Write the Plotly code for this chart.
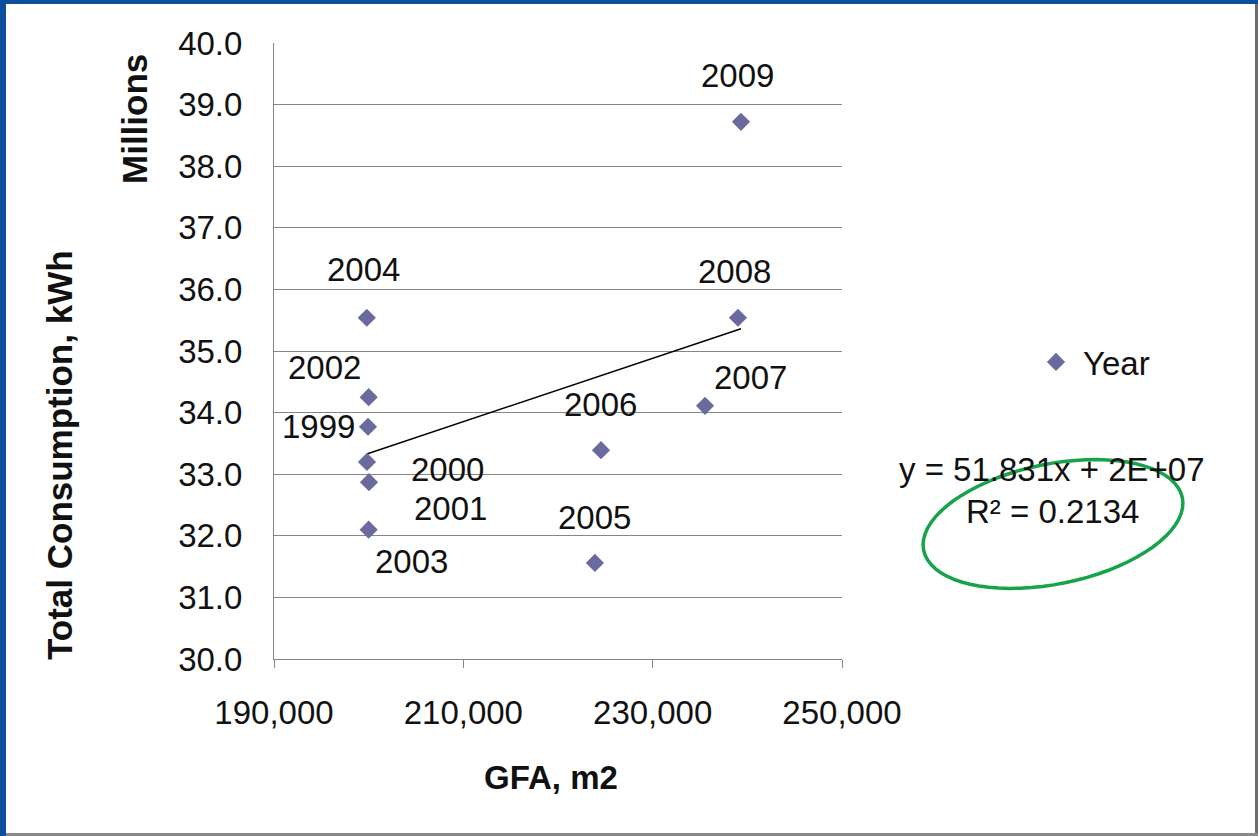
import numpy as np
import plotly.graph_objects as go

# ---- data ----
years = ["1999", "2000", "2001", "2002", "2003", "2004", "2005", "2006", "2007", "2008", "2009"]
gfa_m2 = [199930, 199820, 200035, 200000, 200000, 199800, 223900, 224540, 235530, 239010, 239330]
consumption_mkwh = [33.77, 33.20, 32.87, 34.25, 32.10, 35.54, 31.56, 33.39, 34.11, 35.54, 38.72]
x_ticks = [190000, 210000, 230000, 250000]
equation_text = "y = 51.831x + 2E+07"
r2_text = "R² = 0.2134"

# ---- layout geometry (pixels) ----
W, H = 1258, 836
PL, PR, PT, PB = 274, 842, 43, 659  # plot area edges


def px(x):
    return (x - PL) / (PR - PL)


def py(y):
    return (PB - y) / (PB - PT)


FONT = "Arial, Liberation Sans, sans-serif"
TXT = "#111111"

# label offsets relative to each point (pixels, y up)
label_offsets = {
    "1999": (-50, 0), "2000": (81, -8), "2001": (81, -26), "2002": (-44, 30),
    "2003": (43, -32), "2004": (-3, 48), "2005": (0, 45), "2006": (0, 46),
    "2007": (45, 28), "2008": (-3, 46), "2009": (-3, 46),
}

fig = go.Figure()

# trendline (linear fit) from min x to max x
coef = np.polyfit(np.array(gfa_m2, float), np.array(consumption_mkwh, float), 1)
tx = np.array([min(gfa_m2), max(gfa_m2)], float)
fig.add_trace(go.Scatter(x=tx, y=np.polyval(coef, tx), mode="lines",
                         line=dict(color="#000000", width=1.5), showlegend=False,
                         hoverinfo="skip"))

fig.add_trace(go.Scatter(x=gfa_m2, y=consumption_mkwh, mode="markers", name="Year",
                         marker=dict(symbol="diamond", size=14, color="#6a6a9e",
                                     line=dict(width=0))))

annotations = []
for yr, xv, yv in zip(years, gfa_m2, consumption_mkwh):
    dx, dy = label_offsets[yr]
    annotations.append(dict(x=xv, y=yv, xref="x", yref="y", text=yr, showarrow=False,
                            xanchor="center", yanchor="middle",
                            xshift=dx, yshift=dy, font=dict(family=FONT, size=33, color=TXT)))


def ann(xp, yp, text, angle=0, size=33):
    return dict(x=px(xp), y=py(yp), xref="paper", yref="paper", text=text, textangle=angle,
                showarrow=False, xanchor="center", yanchor="middle",
                font=dict(family=FONT, size=size, color=TXT))


annotations += [
    ann(60, 455, "<b>Total Consumption, kWh</b>", -90, 35),
    ann(135, 119, "<b>Millions</b>", -90, 35),
    ann(551, 777, "<b>GFA, m2</b>"),
    ann(1052, 470, equation_text),
    ann(1052, 511, r2_text),
]

# green ellipse
cx, cy, a, b, th = 1053, 524, 132, 60, np.deg2rad(11.5)
t = np.linspace(0, 2 * np.pi, 73)
ex = cx + a * np.cos(t) * np.cos(th) - b * np.sin(t) * np.sin(th)
ey = cy - (a * np.cos(t) * np.sin(th) + b * np.sin(t) * np.cos(th))
path = "M " + " L ".join(f"{px(u):.5f},{py(v):.5f}" for u, v in zip(ex, ey)) + " Z"

shapes = [
    dict(type="path", path=path, xref="paper", yref="paper",
         line=dict(color="#17a34a", width=3.5)),
    # frame
    dict(type="rect", xref="paper", yref="paper", x0=px(0), x1=px(W), y0=py(4), y1=py(0),
         fillcolor="#0d4f9a", line=dict(width=0)),
    dict(type="rect", xref="paper", yref="paper", x0=px(0), x1=px(6), y0=py(H), y1=py(0),
         fillcolor="#0d4f9a", line=dict(width=0)),
    dict(type="rect", xref="paper", yref="paper", x0=px(W - 3), x1=px(W), y0=py(H), y1=py(4),
         fillcolor="#6e6e6e", line=dict(width=0)),
    dict(type="rect", xref="paper", yref="paper", x0=px(6), x1=px(W), y0=py(H), y1=py(H - 3),
         fillcolor="#8a8a8a", line=dict(width=0)),
]

fig.update_layout(
    width=W, height=H,
    margin=dict(l=PL, r=W - PR, t=PT, b=H - PB, pad=0),
    paper_bgcolor="white", plot_bgcolor="white",
    font=dict(family=FONT, size=33, color=TXT),
    annotations=annotations, shapes=shapes,
    legend=dict(x=px(1029), y=py(362), xanchor="left", yanchor="middle",
                font=dict(family=FONT, size=33, color=TXT), bgcolor="rgba(0,0,0,0)",
                itemwidth=44),
    xaxis=dict(range=[190000, 250000], tickvals=x_ticks, tickformat=",", showgrid=False,
               zeroline=False, showline=True, linecolor="#868686", linewidth=1,
               ticks="outside", ticklen=8, tickcolor="#868686", ticklabelstandoff=16,
               tickfont=dict(family=FONT, size=33, color=TXT)),
    yaxis=dict(range=[30, 40], dtick=1, tickformat=".1f", showgrid=True, gridcolor="#868686",
               gridwidth=1, zeroline=False, showline=True, linecolor="#868686", linewidth=1,
               ticks="", ticklabelstandoff=24, tickfont=dict(family=FONT, size=33, color=TXT)),
)

fig.write_html("out.html", config={"displayModeBar": False},
               post_script="document.body.style.margin='0';document.body.style.overflow='hidden';")
